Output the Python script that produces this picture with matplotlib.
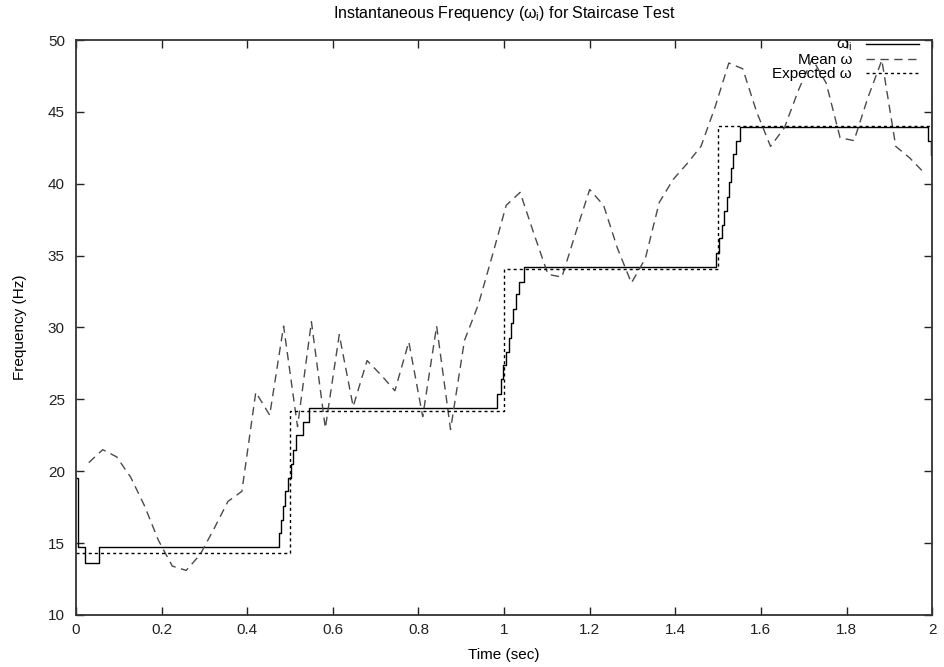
import matplotlib
matplotlib.use("Agg")
import matplotlib.pyplot as plt

# ── data ─────────────────────────────────────────────────────────────────
# instantaneous frequency (solid staircase), drawn with steps-post
inst_t = [0.0, 0.005, 0.020, 0.053, 0.474, 0.479, 0.484, 0.489, 0.496, 0.502,
          0.508, 0.514, 0.530, 0.545,
          0.984, 0.993, 0.998, 1.005, 1.012, 1.017, 1.022, 1.028, 1.036, 1.047,
          1.494, 1.501, 1.508, 1.514, 1.520, 1.525, 1.530, 1.535, 1.541, 1.550,
          1.991, 1.997, 2.0]
inst_f = [19.5, 14.7, 13.6, 14.7, 15.7, 16.6, 17.6, 18.6, 19.5, 20.5,
          21.5, 22.5, 23.45, 24.4,
          25.4, 26.4, 27.4, 28.3, 29.3, 30.3, 31.3, 32.3, 33.2, 34.2,
          35.2, 36.2, 37.1, 38.1, 39.1, 40.1, 41.1, 42.1, 43.0, 43.95,
          43.0, 42.0, 45.9]

# mean frequency (dashed)
mean_t = [0.030, 0.0625, 0.095, 0.1275, 0.160, 0.1925, 0.225, 0.2575, 0.290, 0.3225,
          0.355, 0.3875, 0.420, 0.4525, 0.485, 0.5175, 0.550, 0.5825, 0.615, 0.6475,
          0.680, 0.7125, 0.745, 0.7775, 0.810, 0.8425, 0.875, 0.9075, 0.940, 0.9725,
          1.005, 1.0375, 1.070, 1.1025, 1.135, 1.1675, 1.200, 1.2325, 1.265, 1.2975,
          1.330, 1.3625, 1.395, 1.4275, 1.460, 1.4925, 1.525, 1.5575, 1.590, 1.6225,
          1.655, 1.6875, 1.720, 1.7525, 1.785, 1.8175, 1.850, 1.8825, 1.915, 1.9475,
          1.980]
mean_f = [20.6, 21.5, 21.0, 19.6, 17.6, 15.2, 13.4, 13.1, 14.2, 16.0,
          17.9, 18.6, 25.5, 23.9, 30.1, 23.1, 30.4, 23.0, 29.5, 24.5,
          27.7, 26.7, 25.6, 29.0, 23.8, 30.1, 22.9, 29.1, 31.6, 35.0,
          38.5, 39.4, 36.5, 33.7, 33.5, 36.6, 39.6, 38.5, 35.5, 33.1,
          34.8, 38.7, 40.3, 41.4, 42.6, 45.3, 48.4, 48.0, 45.0, 42.6,
          43.9, 46.5, 48.7, 47.0, 43.2, 43.0, 46.0, 48.6, 42.6, 41.8,
          40.8]

# expected frequency (dotted staircase)
exp_t = [0.0, 0.5, 1.0, 1.5, 2.0]
exp_f = [14.3, 24.2, 34.1, 44.0, 44.0]

x_ticks = [0, 0.2, 0.4, 0.6, 0.8, 1, 1.2, 1.4, 1.6, 1.8, 2]
x_tick_labels = ["0", "0.2", "0.4", "0.6", "0.8", "1", "1.2", "1.4", "1.6", "1.8", "2"]
y_ticks = [10, 15, 20, 25, 30, 35, 40, 45, 50]
# ─────────────────────────────────────────────────────────────────────────

plt.rcParams['font.family'] = ['Liberation Sans', 'DejaVu Sans']
plt.rcParams['mathtext.fontset'] = 'custom'
plt.rcParams['mathtext.rm'] = 'Liberation Sans'
plt.rcParams['mathtext.it'] = 'Liberation Sans'

FS = 11

fig = plt.figure(figsize=(9.45, 6.67), dpi=100)
ax = fig.add_axes([0.0804, 0.078, 0.906, 0.862])

ax.plot(inst_t, inst_f, drawstyle='steps-post', color='black', lw=1.0,
        label=r'ω$_{\rm i}$')
ax.plot(mean_t, mean_f, color='#4a4a4a', lw=1.0, dashes=(6, 4),
        label='Mean ω')
ax.plot(exp_t, exp_f, drawstyle='steps-post', color='black', lw=1.0,
        dashes=(2.2, 2.2), label='Expected ω')

ax.set_xlim(0, 2)
ax.set_ylim(10, 50)
ax.set_xticks(x_ticks)
ax.set_xticklabels(x_tick_labels)
ax.set_yticks(y_ticks)
ax.tick_params(direction='in', length=6, width=1.0, top=True, right=True,
               labelsize=FS, colors='#222222')
ax.tick_params(axis='x', pad=6)
ax.tick_params(axis='y', pad=8)
for sp in ax.spines.values():
    sp.set_linewidth(1.3)
    sp.set_color('#333333')

ax.set_xlabel('Time (sec)', fontsize=FS, labelpad=8)
ax.set_ylabel('Frequency (Hz)', fontsize=FS, labelpad=15)
ax.set_title(r'Instantaneous Frequency (ω$_{\rm i}$) for Staircase Test',
             fontsize=11.5, pad=16)

leg = ax.legend(loc='upper right', frameon=False, markerfirst=False,
                fontsize=FS, handlelength=3.5, labelspacing=0.0,
                borderaxespad=0, handletextpad=0.9,
                bbox_to_anchor=(0.992, 1.014))

plt.savefig('out.png', dpi=100)
